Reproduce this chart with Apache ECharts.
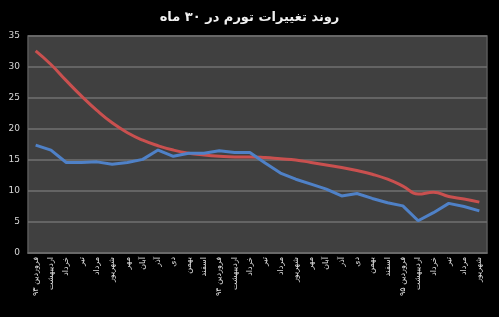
<!DOCTYPE html>
<html><head><meta charset="utf-8">
<script src="https://cdn.jsdelivr.net/npm/echarts@6/dist/echarts.min.js"></script>
<style>html,body{margin:0;padding:0;background:#000;}#c{width:499px;height:317px;}</style>
</head><body><div id="c"></div>
<script>
const titleText = 'روند تغییرات تورم در ۳۰ ماه';
const categories = ['فروردین ۹۳','اردیبهشت','خرداد','تیر','مرداد','شهریور','مهر','آبان','آذر','دی','بهمن','اسفند',
  'فروردین ۹۴','اردیبهشت','خرداد','تیر','مرداد','شهریور','مهر','آبان','آذر','دی','بهمن','اسفند',
  'فروردین ۹۵','اردیبهشت','خرداد','تیر','مرداد','شهریور'];
const redSeries = [32.6,30.4,27.8,25.3,23.0,21.0,19.4,18.2,17.3,16.6,16.1,15.8,15.6,15.5,15.5,15.4,15.2,15.0,14.6,14.2,13.8,13.3,12.7,11.9,10.8,9.5,9.8,9.1,8.7,8.2];
const blueSeries = [17.4,16.6,14.6,14.6,14.7,14.3,14.6,15.1,16.6,15.6,16.1,16.1,16.5,16.2,16.2,14.5,12.9,11.9,11.1,10.3,9.2,9.6,8.8,8.1,7.6,5.2,6.5,8.0,7.5,6.8];
const yTicks = {min:0, max:35, interval:5};

const chart = echarts.init(document.getElementById('c'), null, {renderer:'canvas'});
chart.setOption({
  backgroundColor:'#000',
  animation:false,
  title:{text:titleText,left:'center',top:6,textStyle:{color:'#f0f0f0',fontSize:13,fontWeight:'bold',fontFamily:'DejaVu Sans'}},
  grid:{left:28,right:12,top:36,bottom:64,show:true,backgroundColor:'#404040',borderColor:'#595959',borderWidth:1.5},
  xAxis:{type:'category',data:categories,boundaryGap:true,
    axisLine:{show:true,lineStyle:{color:'#6a6a6a',width:1.5}},
    axisTick:{show:false},
    axisLabel:{interval:0,rotate:90,color:'#e0e0e0',fontSize:8,fontFamily:'DejaVu Sans',margin:4}},
  yAxis:{type:'value',min:yTicks.min,max:yTicks.max,interval:yTicks.interval,
    axisLine:{show:false},axisTick:{show:false},
    axisLabel:{color:'#d8d8d8',fontSize:9,fontFamily:'DejaVu Sans',margin:8},
    splitLine:{lineStyle:{color:'#707070',width:1.5}}},
  series:[
    {type:'line',data:redSeries,smooth:0.5,symbol:'none',lineStyle:{color:'#c9504f',width:3},z:3},
    {type:'line',data:blueSeries,smooth:false,symbol:'none',lineStyle:{color:'#4f81c7',width:3},z:4}
  ]
});
</script></body></html>
